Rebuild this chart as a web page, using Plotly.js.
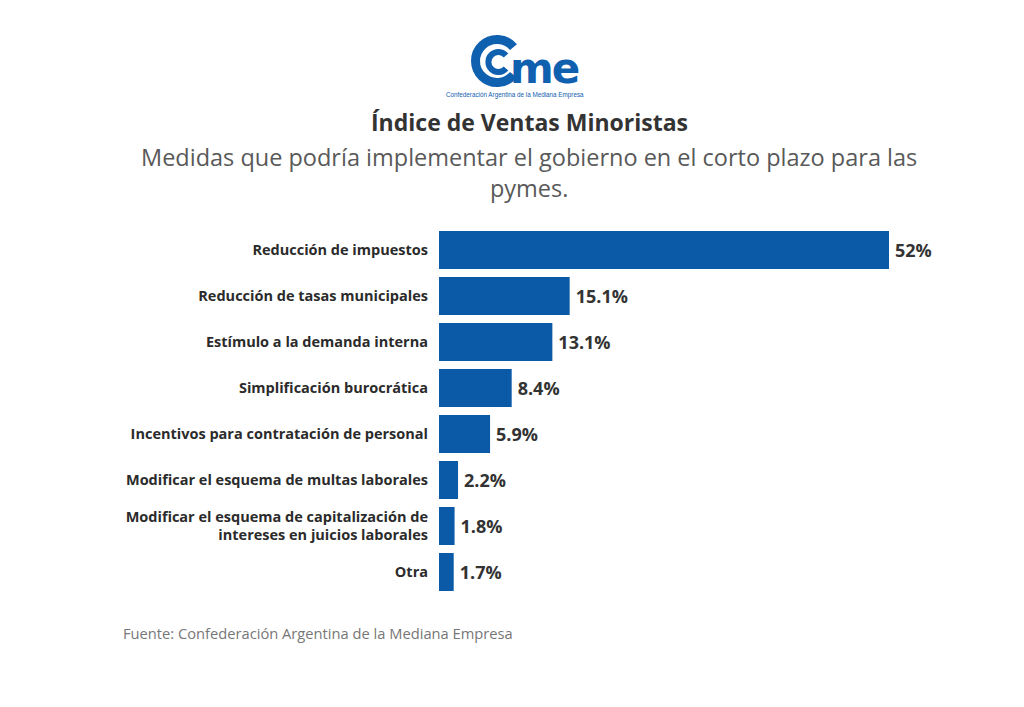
<!DOCTYPE html>
<html>
<head>
<meta charset="utf-8">
<script src="https://cdn.plot.ly/plotly-3.0.1.min.js"></script>
<style>html,body{margin:0;padding:0;background:#fff;}#chart{width:1024px;height:707px;}</style>
</head>
<body>
<div id="chart"></div>
<script>
const categories = [
  "Reducción de impuestos",
  "Reducción de tasas municipales",
  "Estímulo a la demanda interna",
  "Simplificación burocrática",
  "Incentivos para contratación de personal",
  "Modificar el esquema de multas laborales",
  "Modificar el esquema de capitalización de<br>intereses en juicios laborales",
  "Otra"
];
const values = [52, 15.1, 13.1, 8.4, 5.9, 2.2, 1.8, 1.7];

const titleText = "Índice de Ventas Minoristas";
const subtitleText = "Medidas que podría implementar el gobierno en el corto plazo para las<br>pymes.";
const sourceText = "Fuente: Confederación Argentina de la Mediana Empresa";

const W = 1024, H = 707;
const mL = 439, mR = 64, mT = 227, mB = 112;
const pw = W - mL - mR, ph = H - mT - mB;
const px = x => (x - mL) / pw;
const py = y => (H - mB - y) / ph;

const logoSvg = `<svg xmlns="http://www.w3.org/2000/svg" width="160" height="72" viewBox="0 0 160 72">
<path d="M 73.5 19.2 A 21.5 21.5 0 1 0 73.5 46.8" fill="none" stroke="#1060b0" stroke-width="9"/>
<path d="M 66 27.5 A 10 10 0 1 0 66 40.5" fill="none" stroke="#1060b0" stroke-width="6"/>
<text x="70" y="55" font-family="DejaVu Sans" font-weight="bold" font-size="42" fill="#1060b0" letter-spacing="-2">me</text>
<text x="6" y="69" font-family="Liberation Sans" font-size="6.3" fill="#1060b0">Confederación Argentina de la Mediana Empresa</text>
</svg>`;
const logoUri = "data:image/svg+xml;charset=utf-8," + encodeURIComponent(logoSvg);

const trace = {
  type: "bar",
  orientation: "h",
  y: categories,
  x: values,
  texttemplate: "\u2009%{x}%",
  textposition: "outside",
  cliponaxis: false,
  textfont: {family: "Open Sans", size: 18, color: "#333333", weight: "bold"},
  marker: {color: "#0b5aa8"},
  hoverinfo: "none"
};

const layout = {
  width: W, height: H,
  margin: {l: mL, r: mR, t: mT, b: mB},
  paper_bgcolor: "#ffffff",
  plot_bgcolor: "#ffffff",
  showlegend: false,
  bargap: 0.174,
  xaxis: {range: [0, 52 * pw / 450], visible: false, fixedrange: true},
  yaxis: {
    autorange: "reversed",
    showgrid: false, zeroline: false, showline: false, ticks: "",
    ticklabelstandoff: 10,
    tickfont: {family: "Open Sans", size: 14.5, color: "#2b2b2b", weight: "bold"},
    fixedrange: true
  },
  annotations: [
    {text: "<b>" + titleText + "</b>", xref: "paper", yref: "paper", x: px(529), y: py(122),
     xanchor: "center", yanchor: "middle", showarrow: false,
     font: {family: "Open Sans", size: 23, color: "#333333"}},
    {text: subtitleText, xref: "paper", yref: "paper", x: px(529), y: py(172),
     xanchor: "center", yanchor: "middle", showarrow: false, align: "center",
     font: {family: "Open Sans", size: 23.5, color: "#595959"}},
    {text: sourceText, xref: "paper", yref: "paper", x: px(121), y: py(633),
     xanchor: "left", yanchor: "middle", showarrow: false,
     font: {family: "Open Sans", size: 14.7, color: "#777777"}}
  ],
  images: [
    {source: logoUri, xref: "paper", yref: "paper", x: px(440), y: py(28),
     sizex: 160 / pw, sizey: 72 / ph, xanchor: "left", yanchor: "top",
     sizing: "stretch", layer: "above"}
  ]
};

Plotly.newPlot("chart", [trace], layout, {displayModeBar: false, staticPlot: true});
</script>
</body>
</html>
